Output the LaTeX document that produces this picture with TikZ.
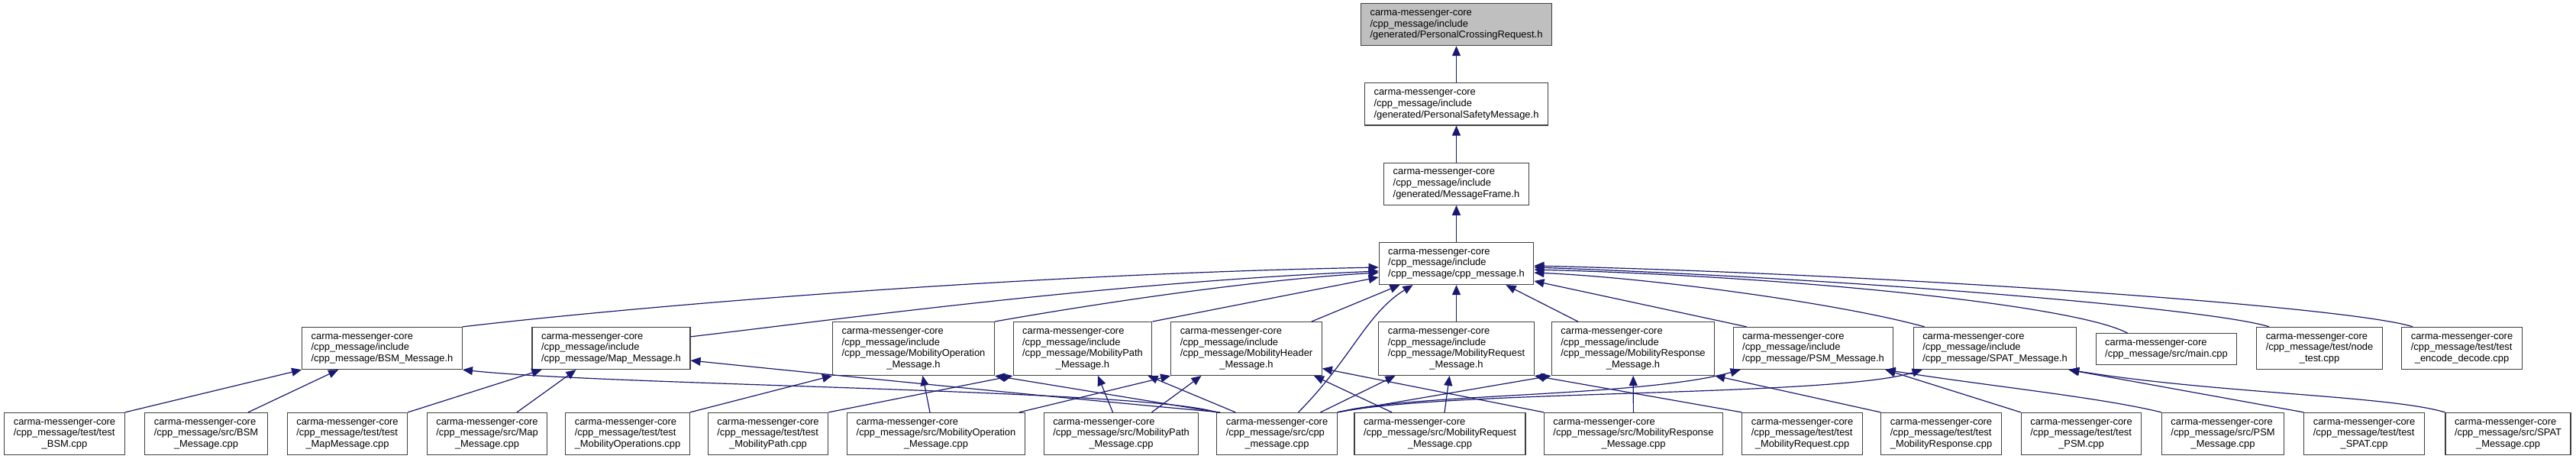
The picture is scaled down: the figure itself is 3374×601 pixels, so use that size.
\documentclass[tikz,border=0pt]{standalone}
\usepackage{fontspec}
\setmainfont{Liberation Sans}
\usetikzlibrary{positioning, arrows.meta}
\definecolor{edgeblue}{HTML}{191970}
\definecolor{boxgray}{HTML}{404040}
\definecolor{rootfill}{HTML}{BFBFBF}
\newcommand{\flabel}[2]{\begin{tabular}{@{}l@{}}#1\\\multicolumn{1}{@{}c@{}}{#2}\end{tabular}}
\tikzset{
  fnode/.style={
    draw=boxgray, rectangle, line width=1.2pt,
    fill=white, inner xsep=12pt, inner ysep=5.5pt,
    font=\fontsize{12.9}{14.7}\selectfont
  },
  froot/.style={fnode, fill=rootfill},
  incarr/.style={-{Stealth[length=13pt, width=11pt, inset=0pt]}, draw=edgeblue, line width=1.2pt},
}

\begin{document}
\begin{tikzpicture}[x=1pt, y=-1pt]
    \useasboundingbox (0,0) rectangle (3374,601);
    \node[fnode] (cpph) at (1907.5,345) {\flabel{carma-messenger-core\\/cpp\_message/include}{/cpp\_message/cpp\_message.h}};
    \node[fnode, above=48pt of cpph]   (mframe) {\flabel{carma-messenger-core\\/cpp\_message/include}{/generated/MessageFrame.h}};
    \node[fnode, above=48pt of mframe] (psmsg)  {\flabel{carma-messenger-core\\/cpp\_message/include}{/generated/PersonalSafetyMessage.h}};
    \node[froot, above=48pt of psmsg]  (pcr)    {\flabel{carma-messenger-core\\/cpp\_message/include}{/generated/PersonalCrossingRequest.h}};

    \node[fnode] (bsmh)     at (500.5,456)  {\flabel{carma-messenger-core\\/cpp\_message/include}{/cpp\_message/BSM\_Message.h}};
    \node[fnode] (maph)     at (800.5,456)  {\flabel{carma-messenger-core\\/cpp\_message/include}{/cpp\_message/Map\_Message.h}};
    \node[fnode] (mobopsh)  at (1196.5,456.5) {\flabel{carma-messenger-core\\/cpp\_message/include\\/cpp\_message/MobilityOperation}{\_Message.h}};
    \node[fnode] (mobpathh) at (1418,456.5) {\flabel{carma-messenger-core\\/cpp\_message/include\\/cpp\_message/MobilityPath}{\_Message.h}};
    \node[fnode] (mobhdrh)  at (1632.5,456.5) {\flabel{carma-messenger-core\\/cpp\_message/include\\/cpp\_message/MobilityHeader}{\_Message.h}};
    \node[fnode] (mobreqh)  at (1907.5,456.5) {\flabel{carma-messenger-core\\/cpp\_message/include\\/cpp\_message/MobilityRequest}{\_Message.h}};
    \node[fnode] (mobresph) at (2139,456.5) {\flabel{carma-messenger-core\\/cpp\_message/include\\/cpp\_message/MobilityResponse}{\_Message.h}};
    \node[fnode] (psmh)     at (2375,456)   {\flabel{carma-messenger-core\\/cpp\_message/include}{/cpp\_message/PSM\_Message.h}};
    \node[fnode] (spath)    at (2613,456)   {\flabel{carma-messenger-core\\/cpp\_message/include}{/cpp\_message/SPAT\_Message.h}};
    \node[fnode] (maincpp)  at (2837.5,457) {\flabel{carma-messenger-core}{/cpp\_message/src/main.cpp}};
    \node[fnode] (nodetest) at (3038,456)   {\flabel{carma-messenger-core\\/cpp\_message/test/node}{\_test.cpp}};
    \node[fnode] (encdec)   at (3224.5,456) {\flabel{carma-messenger-core\\/cpp\_message/test/test}{\_encode\_decode.cpp}};

    \node[fnode] (testbsm)     at (84.5,568)   {\flabel{carma-messenger-core\\/cpp\_message/test/test}{\_BSM.cpp}};
    \node[fnode] (srcbsm)      at (270,568)    {\flabel{carma-messenger-core\\/cpp\_message/src/BSM}{\_Message.cpp}};
    \node[fnode] (testmap)     at (455,568)    {\flabel{carma-messenger-core\\/cpp\_message/test/test}{\_MapMessage.cpp}};
    \node[fnode] (srcmap)      at (638,568)    {\flabel{carma-messenger-core\\/cpp\_message/src/Map}{\_Message.cpp}};
    \node[fnode] (testmobops)  at (822,568)    {\flabel{carma-messenger-core\\/cpp\_message/test/test}{\_MobilityOperations.cpp}};
    \node[fnode] (testmobpath) at (1006,568)   {\flabel{carma-messenger-core\\/cpp\_message/test/test}{\_MobilityPath.cpp}};
    \node[fnode] (srcmobop)    at (1226,568)   {\flabel{carma-messenger-core\\/cpp\_message/src/MobilityOperation}{\_Message.cpp}};
    \node[fnode] (srcmobpath)  at (1468.5,568) {\flabel{carma-messenger-core\\/cpp\_message/src/MobilityPath}{\_Message.cpp}};
    \node[fnode] (srccpp)      at (1672.5,568) {\flabel{carma-messenger-core\\/cpp\_message/src/cpp}{\_message.cpp}};
    \node[fnode] (srcmobreq)   at (1886,568)   {\flabel{carma-messenger-core\\/cpp\_message/src/MobilityRequest}{\_Message.cpp}};
    \node[fnode] (srcmobresp)  at (2139.5,568) {\flabel{carma-messenger-core\\/cpp\_message/src/MobilityResponse}{\_Message.cpp}};
    \node[fnode] (testmobreq)  at (2360.5,568) {\flabel{carma-messenger-core\\/cpp\_message/test/test}{\_MobilityRequest.cpp}};
    \node[fnode] (testmobresp) at (2542.5,568) {\flabel{carma-messenger-core\\/cpp\_message/test/test}{\_MobilityResponse.cpp}};
    \node[fnode] (testpsm)     at (2726,568)   {\flabel{carma-messenger-core\\/cpp\_message/test/test}{\_PSM.cpp}};
    \node[fnode] (srcpsm)      at (2911.5,568) {\flabel{carma-messenger-core\\/cpp\_message/src/PSM}{\_Message.cpp}};
    \node[fnode] (testspat)    at (3096.5,568) {\flabel{carma-messenger-core\\/cpp\_message/test/test}{\_SPAT.cpp}};
    \node[fnode] (srcspat)     at (3285,568)   {\flabel{carma-messenger-core\\/cpp\_message/src/SPAT}{\_Message.cpp}};

    \draw[incarr] (psmsg) -- (pcr);
    \draw[incarr] (mframe) -- (psmsg);
    \draw[incarr] (cpph) -- (mframe);

    \draw[incarr] (bsmh.north east) .. controls (800,405) and (1300,360) .. ([yshift=-5pt]cpph.west);
    \draw[incarr] ([yshift=-13pt]maph.north east) .. controls (1100,418) and (1450,370) .. ([yshift=-10pt]cpph.west);
    \draw[incarr] (mobopsh.north east) .. controls (1450,395) and (1650,366) .. ([yshift=-12pt]cpph.west);
    \draw[incarr] (mobpathh.north east) -- ([yshift=-18pt]cpph.west);
    \draw[incarr] ([xshift=-14pt]mobhdrh.north east) -- ([xshift=-74pt]cpph.south);
    \draw[incarr] ([xshift=28pt]srccpp.north) .. controls (1770,470) and (1790,410) .. ([xshift=-57pt]cpph.south);
    \draw[incarr] (mobreqh) -- (cpph);
    \draw[incarr] ([xshift=35pt]mobresph.north west) -- ([xshift=65pt]cpph.south);
    \draw[incarr] ([xshift=18pt]psmh.north west) -- ([yshift=-23pt]cpph.east);
    \draw[incarr] ([xshift=15pt]spath.north west) .. controls (2400,395) and (2150,363) .. ([yshift=-12pt]cpph.east);
    \draw[incarr] ([xshift=42pt]maincpp.north west) .. controls (2720,400) and (2350,362) .. ([yshift=-8pt]cpph.east);
    \draw[incarr] ([xshift=17pt]nodetest.north west) .. controls (2900,405) and (2450,366) .. ([yshift=-5pt]cpph.east);
    \draw[incarr] ([xshift=15pt]encdec.north west) .. controls (3080,402) and (2500,360) .. ([yshift=-3pt]cpph.east);

    \draw[incarr] (testbsm.north east) -- (bsmh.south west);
    \draw[incarr] ([xshift=55pt]srcbsm.north) -- ([xshift=48pt]bsmh.south west);
    \draw[incarr] (srccpp.north west) .. controls (1500,510) and (800,505) .. (bsmh.south east);
    \draw[incarr] (testmap.north east) -- ([xshift=13pt]maph.south west);
    \draw[incarr] ([xshift=39pt]srcmap.north) -- ([xshift=58pt]maph.south west);
    \draw[incarr] ([xshift=5pt]srccpp.north west) .. controls (1400,522) and (1100,492) .. ([yshift=-16pt]maph.east);
    \draw[incarr] (testmobops.north east) -- (mobopsh.south west);
    \draw[incarr] ([xshift=-8pt]srcmobop.north) -- ([xshift=12pt]mobopsh.south);
    \draw[incarr] ([xshift=2pt]srccpp.north west) -- (mobopsh.south east);
    \draw[incarr] (testmobpath.north east) -- (mobpathh.south west);
    \draw[incarr] ([xshift=-11pt]srcmobpath.north) -- ([xshift=20pt]mobpathh.south);
    \draw[incarr] ([xshift=25pt]srccpp.north west) -- ([xshift=-6pt]mobpathh.south east);
    \draw[incarr] ([xshift=-8pt]srcmobop.north east) -- (mobhdrh.south west);
    \draw[incarr] ([xshift=40pt]srcmobpath.north) -- ([xshift=-59pt]mobhdrh.south);
    \draw[incarr] ([xshift=-63pt]srcmobreq.north) -- ([xshift=-11pt]mobhdrh.south east);
    \draw[incarr] (srcmobresp.north west) -- ([yshift=-26pt]mobhdrh.east);
    \draw[incarr] ([xshift=57pt]srccpp.north) -- ([xshift=-80pt]mobreqh.south);
    \draw[incarr] ([xshift=6pt]srcmobreq.north) -- ([xshift=-9pt]mobreqh.south);
    \draw[incarr] (testmobreq.north west) -- (mobreqh.south east);
    \draw[incarr] (srccpp.north east) -- (mobresph.south west);
    \draw[incarr] (srcmobresp) -- (mobresph);
    \draw[incarr] (testmobresp.north west) -- (mobresph.south east);
    \draw[incarr] (srccpp.north east) .. controls (1850,515) and (2150,520) .. ([xshift=10pt]psmh.south west);
    \draw[incarr] (srccpp.north east) .. controls (1900,510) and (2400,520) .. ([xshift=12pt]spath.south west);
    \draw[incarr] (testpsm.north west) -- ([xshift=-11pt]psmh.south east);
    \draw[incarr] (srcpsm.north west) .. controls (2750,520) and (2600,505) .. ([xshift=-11pt]psmh.south east);
    \draw[incarr] (testspat.north west) -- ([xshift=-11pt]spath.south east);
    \draw[incarr] (srcspat.north west) .. controls (3130,518) and (2900,515) .. ([xshift=-10pt]spath.south east);
  \end{tikzpicture}
\end{document}
